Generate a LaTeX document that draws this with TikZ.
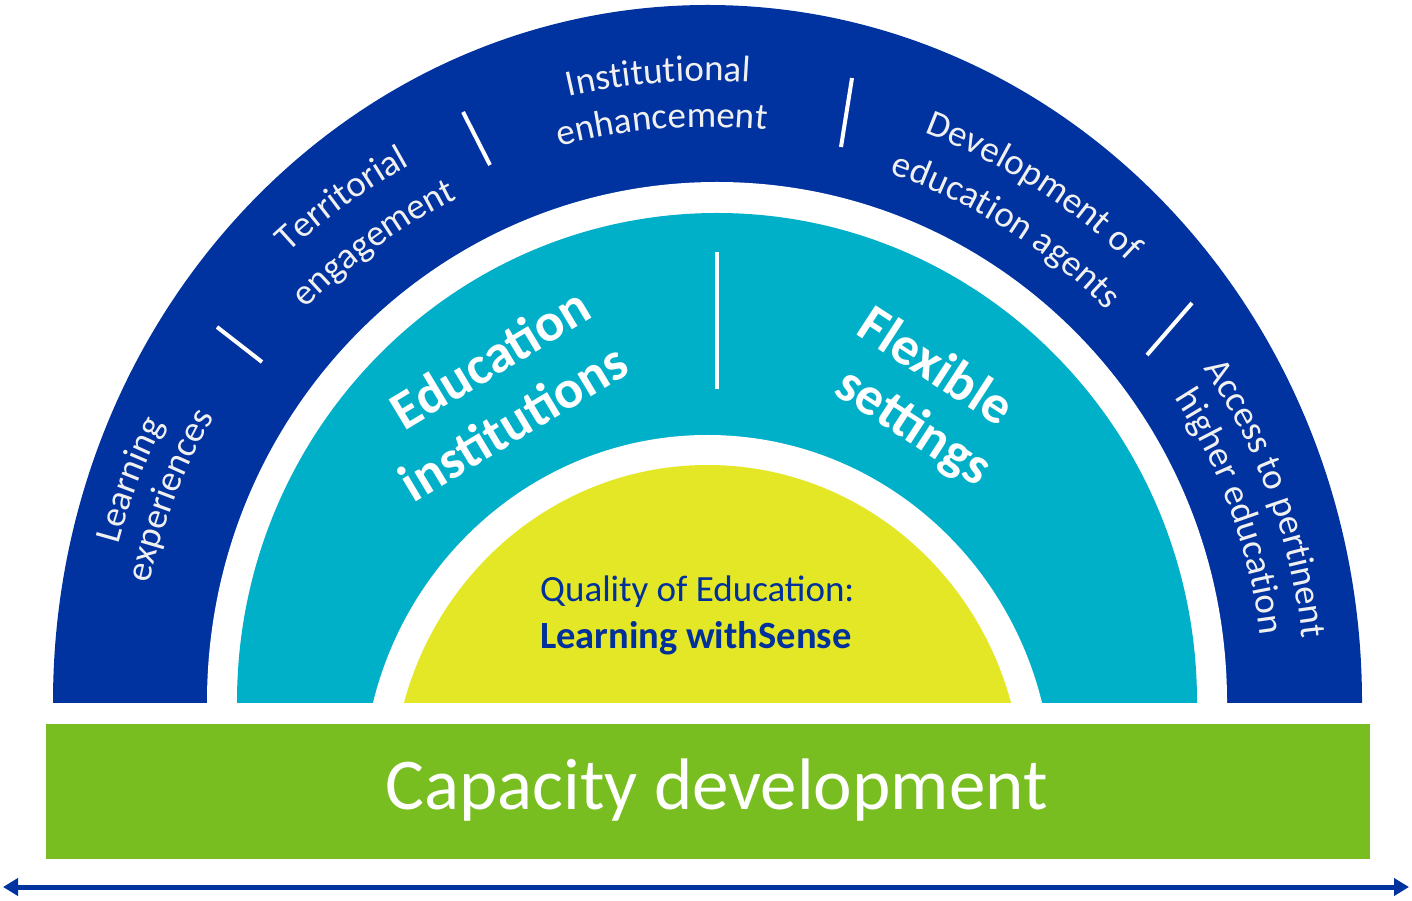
\documentclass[tikz,border=0pt]{standalone}
\usepackage{fontspec}
\setmainfont{Carlito}
\usetikzlibrary{decorations.text,arrows.meta}
\definecolor{ringblue}{HTML}{0033A0}
\definecolor{ringcyan}{HTML}{00AFC8}
\definecolor{coreyellow}{HTML}{E3E726}
\definecolor{basegreen}{HTML}{78BE20}
\definecolor{textblue}{HTML}{00309C}
\definecolor{ringtext}{HTML}{F0F0F0}
\newcommand\ringfont{\fontsize{37}{40}\selectfont}
\tikzset{
  divider/.style={white, line width=4pt},
  ringlabel/.style={decorate, decoration={text along path, text align=center,
      text color=ringtext, text={|\ringfont|#1}}},
  midlabel/.style={text=white, inner sep=0pt, font=\fontsize{54}{60}\selectfont\bfseries},
  corelabel/.style={text=textblue, inner sep=0pt, anchor=base west, font=\fontsize{37}{44}\selectfont},
  tipstyle/.style={line width=5pt, ringblue, {Triangle[length=15pt,width=17pt]}-{Triangle[length=15pt,width=17pt]}}
}
\begin{document}
\begin{tikzpicture}[x=1pt,y=1pt]
\useasboundingbox (0,0) rectangle (1412,900);
\coordinate (C) at (707.5,198);
% rings
\begin{scope}
  \clip (0,198) rectangle (1412,900);
  \fill[ringblue] (707.5,198) ellipse [x radius=654.5pt, y radius=697pt];
  \fill[white] (717,198) ellipse [x radius=510pt, y radius=520pt];
  \fill[ringcyan] (717,198) ellipse [x radius=480pt, y radius=489pt];
  \fill[white] (707.5,110) ellipse [x radius=345pt, y radius=355pt];
  \fill[coreyellow] (707.5,110) ellipse [x radius=315pt, y radius=325pt];
\end{scope}
% dividers
\coordinate (s1a) at (217,573); \coordinate (s1b) at (262,538);
\coordinate (s2a) at (463,788); \coordinate (s2b) at (490,735);
\coordinate (s3a) at (852,822); \coordinate (s3b) at (841,753);
\coordinate (s4a) at (1192,597); \coordinate (s4b) at (1147,545);
\coordinate (s5a) at (717,648); \coordinate (s5b) at (717,511);
\draw[divider] (s1a) -- (s1b);
\draw[divider] (s2a) -- (s2b);
\draw[divider] (s3a) -- (s3b);
\draw[divider] (s4a) -- (s4b);
\draw[divider] (s5a) -- (s5b);
% ring labels
\path[ringlabel={Learning}] ([shift={(189:610pt)}]C) arc[start angle=189, end angle=129, radius=610pt];
\path[ringlabel={experiences}] ([shift={(189:570pt)}]C) arc[start angle=189, end angle=129, radius=570pt];
\path[ringlabel={Territorial}] ([shift={(156:614pt)}]C) arc[start angle=156, end angle=96, radius=614pt];
\path[ringlabel={engagement}] ([shift={(156:562pt)}]C) arc[start angle=156, end angle=96, radius=562pt];
\path[ringlabel={Institutional}] ([shift={(124.5:621pt)}]C) arc[start angle=124.5, end angle=64.5, radius=621pt];
\path[ringlabel={enhancement}] ([shift={(124.5:575pt)}]C) arc[start angle=124.5, end angle=64.5, radius=575pt];
\path[ringlabel={Development of}] ([shift={(87.7:609pt)}]C) arc[start angle=87.7, end angle=27.7, radius=609pt];
\path[ringlabel={education agents}] ([shift={(87.7:559pt)}]C) arc[start angle=87.7, end angle=27.7, radius=559pt];
\path[ringlabel={Access to pertinent}] ([shift={(50:598pt)}]C) arc[start angle=50, end angle=-10, radius=598pt];
\path[ringlabel={higher education}] ([shift={(50:557pt)}]C) arc[start angle=50, end angle=-10, radius=557pt];
% middle ring labels
\node[midlabel, rotate=31] (edu1) at (490,542) {Education};
\node[midlabel, rotate=31] (edu2) at (513,478) {institutions};
\node[midlabel, rotate=-33] (flex1) at (937,535) {Flexible};
\node[midlabel, rotate=-33] (flex2) at (913,472) {settings};
% core
\node[corelabel] (q1) at (540,299) {Quality of Education:};
\node[corelabel, font=\fontsize{38.5}{44}\selectfont\bfseries] (q2) at (540,252) {Learning withSense};
% base bar
\node[fill=basegreen, minimum width=1324pt, minimum height=135pt, inner sep=0pt, anchor=south west] (bar) at (46,41) {};
\node[text=white, inner sep=0pt, anchor=base, font=\fontsize{73}{80}\selectfont] (bartext) at (716.5,91) {Capacity development};
% arrow
\coordinate (aL) at (3,13);
\coordinate (aR) at (1409,13);
\draw[tipstyle] (aL) -- (aR);
\end{tikzpicture}
\end{document}
